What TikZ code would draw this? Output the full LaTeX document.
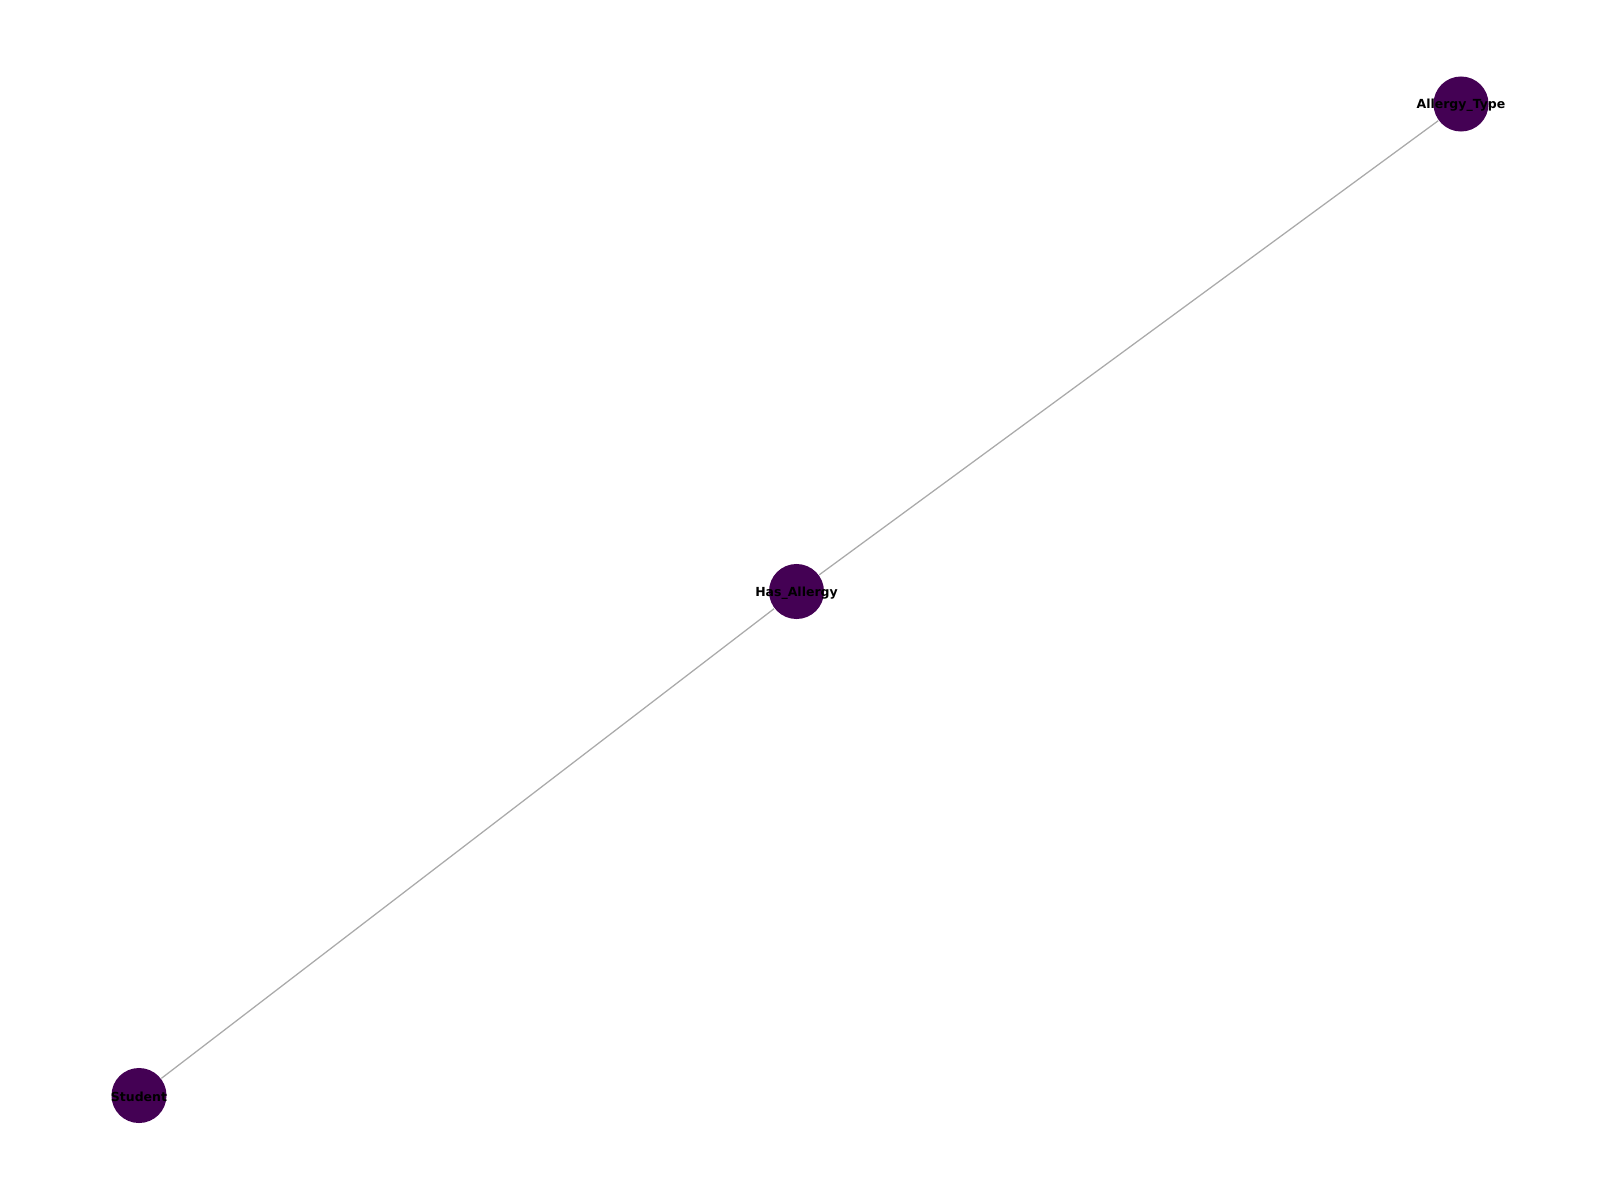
\documentclass[tikz,border=0pt]{standalone}
\usepackage{fontspec}
\setmainfont{DejaVu Sans}
\definecolor{nodecol}{HTML}{440154}
\definecolor{edgecol}{HTML}{AAAAAA}
\tikzset{
  entity/.style={circle, fill=nodecol, minimum size=0.55cm, inner sep=0pt},
  lbl/.style={font=\fontsize{3.55pt}{4pt}\selectfont\bfseries, text=black, inner sep=0pt},
  link/.style={draw=edgecol, line width=0.36pt}
}
\begin{document}
\begin{tikzpicture}[x=0.01cm,y=-0.01cm]
\useasboundingbox (0,0) rectangle (1600,1200);
\node[entity] (at) at (1461,104) {};
\node[entity] (ha) at (796.5,591.5) {};
\node[entity] (st) at (139,1095.5) {};
\draw[link] (st) -- (ha);
\draw[link] (ha) -- (at);
\node[lbl] (atl) at ([yshift=-0.4pt]at.center) {Allergy\_Type};
\node[lbl] (hal) at ([yshift=-0.4pt]ha.center) {Has\_Allergy};
\node[lbl] (stl) at ([yshift=-0.4pt]st.center) {Student};
\end{tikzpicture}
\end{document}
